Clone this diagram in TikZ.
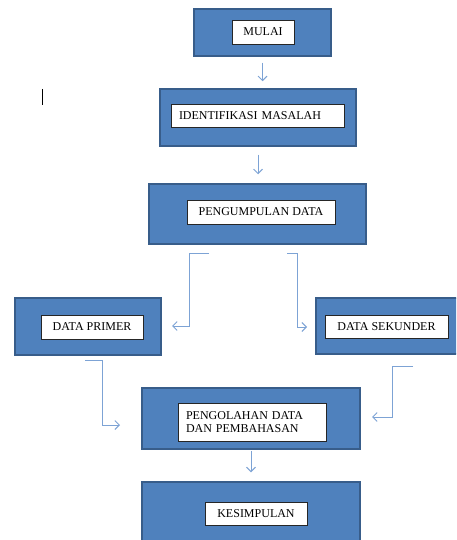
\documentclass[tikz,border=0pt]{standalone}
\usepackage{fontspec}
\setmainfont{Liberation Serif}
\usepackage{tikz}
\usetikzlibrary{arrows.meta}
\definecolor{boxblue}{RGB}{79,129,189}
\definecolor{boxedge}{RGB}{56,93,138}
\definecolor{linkblue}{RGB}{125,163,213}
\tikzset{
    outerbox/.style={draw=boxedge, line width=1.5pt, fill=boxblue, inner sep=0pt},
    textbox/.style={draw=black!85, line width=0.8pt, fill=white, inner sep=0pt,
        font=\fontsize{12}{13}\selectfont},
    conn/.style={draw=linkblue, line width=0.9pt, -{Straight Barb[length=4.5pt,width=9pt]}},
}
\begin{document}
\begin{tikzpicture}[x=1pt, y=-1pt]
    \clip (0,0) rectangle (456,540);
    \fill[white] (0,0) rectangle (456,540);
    % blue frames
    \foreach \n/\x/\y/\w/\h in {
        mulai/262.5/32.5/137/47,
        identifikasi/258/117.5/196/57,
        pengumpulan/257.5/214/217/60,
        primer/88/326.5/146/57,
        sekunder/387/326/142/56,
        pengolahan/251/418.5/218/61,
        kesimpulan/251/513/218/62
        } {
        \node[outerbox, minimum width=\w pt, minimum height=\h pt] (\n) at (\x,\y) {};
    }
    % white labels
    \node[textbox, minimum width=62pt, minimum height=24pt] (mulaitxt) at (263,32) {MULAI};
    \node[textbox, minimum height=23pt, text width=157pt, inner xsep=8pt, align=left] (identifikasitxt) at (257.5,115.5) {IDENTIFIKASI MASALAH};
    \node[textbox, minimum width=148pt, minimum height=24pt] (pengumpulantxt) at (261,212) {PENGUMPULAN DATA};
    \node[textbox, minimum width=102pt, minimum height=24pt] (primertxt) at (92,327) {DATA PRIMER};
    \node[textbox, minimum width=123pt, minimum height=23pt] (sekundertxt) at (386.5,326.5) {DATA SEKUNDER};
    \node[textbox, minimum height=38pt, text width=132pt, inner xsep=8pt, align=left] (pengolahantxt) at (252,422) {PENGOLAHAN DATA\\DAN PEMBAHASAN};
    \node[textbox, minimum width=102pt, minimum height=23pt] (kesimpulantxt) at (256,513.5) {KESIMPULAN};
    % free ends of the bent links
    \coordinate (kumpulL) at (209,253);
    \coordinate (kumpulR) at (287,253);
    \coordinate (primerIn) at (172,326);
    \coordinate (sekunderIn) at (307,327);
    \coordinate (primerOut) at (85,360);
    \coordinate (sekunderOut) at (413,366);
    \coordinate (olahInL) at (120,425);
    \coordinate (olahInR) at (372,417);
    % links
    \draw[conn] ([yshift=-6pt]mulai.south) -- ([yshift=7pt]mulai.south |- identifikasi.north);
    \draw[conn] ([yshift=-8pt]identifikasi.south) -- ([yshift=9pt]identifikasi.south |- pengumpulan.north);
    \draw[conn] ([yshift=-1pt]pengolahan.south) -- ([yshift=9pt]pengolahan.south |- kesimpulan.north);
    \draw[conn] (kumpulL) -- (189,253) |- (primerIn);
    \draw[conn] (kumpulR) -- (297,253) |- (sekunderIn);
    \draw[conn] (primerOut) -- (102,360) |- (olahInL);
    \draw[conn] (sekunderOut) -- (392,366) |- (olahInR);
    % stray cursor mark
    \draw[black, line width=1pt] (42,89) -- (42,105);
\end{tikzpicture}
\end{document}
